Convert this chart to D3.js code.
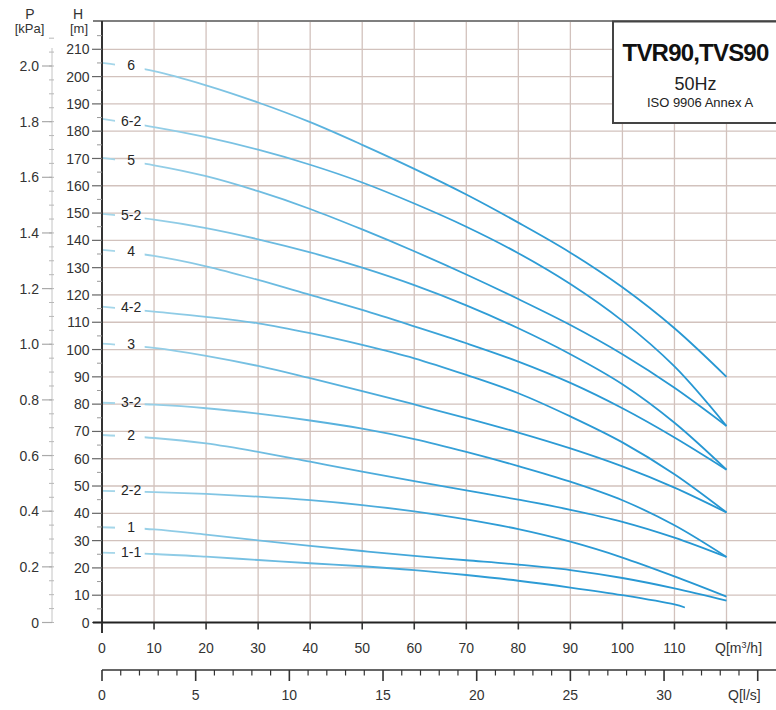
<!DOCTYPE html>
<html><head><meta charset="utf-8">
<script src="https://cdn.jsdelivr.net/npm/d3@7"></script>
<style>body{margin:0;background:#fff}svg{display:block;font-family:"Liberation Sans",Arial,Helvetica,sans-serif}</style>
</head><body><svg id="c" width="776" height="710"></svg>
<script>
// ---------- data ----------
const flow   = [0,10,20,30,40,50,60,70,80,90,100,110,120];
const flow11 = [0,10,20,30,40,50,60,70,80,90,100,110,112];
const h6   = [205,202,196.8,190.5,183.3,175,166.2,156.8,146.5,135.5,122.8,107.8,90];
const h6_2 = [184.5,181.5,177.8,173.2,167.7,161.2,153.5,145,135.3,124,110.5,93.8,72];
const h5   = [170.2,167.5,163.5,158,151.5,144,136,127.5,118.5,109,98.3,86,72];
const h5_2 = [149.7,147.6,144.5,140.4,135.6,130,123.6,116.2,107.8,98.3,87.3,73.2,56];
const h4   = [136.5,134.3,130.5,125.5,120,114.5,108.5,102.3,95.6,87.8,78.5,67.8,56];
const h4_2 = [115.7,113.9,112,109.6,106,101.7,96.8,90.7,84,75.5,66,54.3,40.3];
const h3   = [102.2,100.6,97.7,94,89.5,84.8,79.9,74.9,69.6,63.8,57.2,49.4,40.3];
const h3_2 = [80.5,79.8,78.5,76.5,74,71,67.2,62.5,57.3,51.6,44.8,35.6,24];
const h2   = [68.7,67.6,65.6,62.5,58.9,55.3,51.8,48.4,45,41.3,36.9,31.1,24];
const h2_2 = [48.2,47.8,47.1,46.1,44.8,43,40.7,37.8,34.2,29.6,23.8,16.9,9.5];
const h1   = [34.9,34.1,32.2,30.1,28.1,26.2,24.4,22.8,21.2,19.2,16.3,12.5,8];
const h1_1 = [25.6,25.1,24.1,22.9,21.7,20.6,19.2,17.4,15.3,12.8,10,6.6,5.5];
const curveNames = ["6","6-2","5","5-2","4","4-2","3","3-2","2","2-2","1","1-1"];
const curveHeads = [h6,h6_2,h5,h5_2,h4,h4_2,h3,h3_2,h2,h2_2,h1,h1_1];
const curveFlows = [flow,flow,flow,flow,flow,flow,flow,flow,flow,flow,flow,flow11];
const hTicks  = [0,10,20,30,40,50,60,70,80,90,100,110,120,130,140,150,160,170,180,190,200,210];
const pTicks  = [0,0.2,0.4,0.6,0.8,1.0,1.2,1.4,1.6,1.8,2.0];
const qTicks  = [0,10,20,30,40,50,60,70,80,90,100,110];
const lsTicks = [0,5,10,15,20,25,30];
const titleLines = ["TVR90,TVS90","50Hz","ISO 9906 Annex A"];

// ---------- scales ----------
const W = 776;
const x  = d3.scaleLinear().domain([0,120]).range([102,726.5]);
const y  = d3.scaleLinear().domain([0,220]).range([622.5,22]);
const yP = d3.scaleLinear().domain([0,2]).range([622.5,66]);
const svg = d3.select("#c");
const gridC = "#d2c2bd";

// gradient for curves
const defs = svg.append("defs");
const grad = defs.append("linearGradient").attr("id","cg").attr("gradientUnits","userSpaceOnUse")
  .attr("x1",x(0)).attr("x2",x(120)).attr("y1",0).attr("y2",0);
grad.append("stop").attr("offset","0%").attr("stop-color","#a9d8ea");
grad.append("stop").attr("offset","35%").attr("stop-color","#5bb3de");
grad.append("stop").attr("offset","60%").attr("stop-color","#2f9dd6");
grad.append("stop").attr("offset","100%").attr("stop-color","#2596d2");

// ---------- grid ----------
const g = svg.append("g");
d3.range(10,131,10).filter(q=>x(q)<=W).forEach(q=>{
  g.append("line").attr("x1",x(q)).attr("x2",x(q)).attr("y1",y(220)).attr("y2",y(0))
   .attr("stroke",gridC).attr("stroke-width",1.3);
});
hTicks.filter(h=>h>0).forEach(h=>{
  g.append("line").attr("x1",x(0)).attr("x2",W).attr("y1",y(h)).attr("y2",y(h))
   .attr("stroke",gridC).attr("stroke-width",1.3);
});

// ---------- curves ----------
const mask = defs.append("mask").attr("id","lm").attr("maskUnits","userSpaceOnUse")
  .attr("x",0).attr("y",0).attr("width",W).attr("height",710);
mask.append("rect").attr("width",W).attr("height",710).attr("fill","#fff");
const lineGen = d3.line().x(d=>x(d[0])).y(d=>y(d[1])).curve(d3.curveCatmullRom.alpha(0.5));
const cg = svg.append("g").attr("mask","url(#lm)");
const lg = svg.append("g").attr("font-size",14).attr("fill","#262626").attr("text-anchor","middle");
curveNames.forEach((name,i)=>{
  const pts = curveFlows[i].map((q,j)=>[q,curveHeads[i][j]]);
  cg.append("path").attr("d",lineGen(pts)).attr("fill","none")
    .attr("stroke","url(#cg)").attr("stroke-width",1.8);
  const hl = (curveHeads[i][0]+curveHeads[i][1])/2 + 0.6;
  const ly = y(hl);
  mask.append("rect").attr("x",x(2.5)).attr("width",x(8.2)-x(2.5)).attr("y",ly-8).attr("height",16).attr("fill","#000");
  lg.append("text").attr("x",x(5.6)).attr("y",ly).attr("dy","0.35em").text(name);
});

// ---------- top frame & title box ----------
svg.append("line").attr("x1",93).attr("x2",W).attr("y1",21).attr("y2",21).attr("stroke","#555").attr("stroke-width",1.5);
svg.append("rect").attr("x",613).attr("y",21.5).attr("width",180).attr("height",101.5)
  .attr("fill","#fff").attr("stroke","#444").attr("stroke-width",2);
svg.append("text").attr("x",695.5).attr("y",61).attr("font-size",24).attr("font-weight","bold")
  .attr("text-anchor","middle").attr("letter-spacing",-0.8).attr("fill","#111").text(titleLines[0]);
svg.append("text").attr("x",695.5).attr("y",90).attr("font-size",18).attr("text-anchor","middle").attr("fill","#222").text(titleLines[1]);
svg.append("text").attr("x",700).attr("y",106.5).attr("font-size",13).attr("text-anchor","middle").attr("fill","#222").text(titleLines[2]);

// ---------- H axis ----------
const ax = svg.append("g").attr("fill","#333").attr("font-size",14);
svg.append("line").attr("x1",x(0)).attr("x2",x(0)).attr("y1",21).attr("y2",633).attr("stroke","#333").attr("stroke-width",2);
hTicks.forEach(h=>{
  svg.append("line").attr("x1",92).attr("x2",x(0)).attr("y1",y(h)).attr("y2",y(h)).attr("stroke","#666").attr("stroke-width",1.2);
  ax.append("text").attr("x",89.5).attr("y",y(h)).attr("dy","0.36em").attr("text-anchor","end").text(h);
});
hTicks.map(h=>h+5).forEach(h=>{
  svg.append("line").attr("x1",97).attr("x2",x(0)).attr("y1",y(h)).attr("y2",y(h)).attr("stroke","#999").attr("stroke-width",1);
});
ax.append("text").attr("x",78).attr("y",18.5).attr("text-anchor","middle").text("H");
ax.append("text").attr("x",79).attr("y",33).attr("text-anchor","middle").attr("font-size",13).text("[m]");

// ---------- P axis ----------
svg.append("line").attr("x1",52).attr("x2",52).attr("y1",48).attr("y2",yP(0)).attr("stroke","#c4c4c4").attr("stroke-width",1);
d3.range(0,2.101,0.05).forEach(p=>{
  svg.append("line").attr("x1",49).attr("x2",54).attr("y1",yP(p)).attr("y2",yP(p)).attr("stroke","#b8b8b8").attr("stroke-width",1);
});
pTicks.forEach(p=>{
  svg.append("line").attr("x1",42).attr("x2",52).attr("y1",yP(p)).attr("y2",yP(p)).attr("stroke","#aaa").attr("stroke-width",1.2);
  ax.append("text").attr("x",39).attr("y",yP(p)).attr("dy","0.36em").attr("text-anchor","end").text(p===0?"0":p.toFixed(1));
});
ax.append("text").attr("x",30).attr("y",18.5).attr("text-anchor","middle").text("P");
ax.append("text").attr("x",29.5).attr("y",33).attr("text-anchor","middle").attr("font-size",13).text("[kPa]");

// ---------- Q m3/h axis ----------
svg.append("line").attr("x1",93).attr("x2",W).attr("y1",y(0)).attr("y2",y(0)).attr("stroke","#222").attr("stroke-width",2.2);
qTicks.concat([120]).forEach(q=>{
  svg.append("line").attr("x1",x(q)).attr("x2",x(q)).attr("y1",y(0)).attr("y2",629.5).attr("stroke","#333").attr("stroke-width",1.6);
});
qTicks.forEach(q=>{
  ax.append("text").attr("x",x(q)).attr("y",653).attr("text-anchor","middle").text(q);
});
const qt = ax.append("text").attr("x",715).attr("y",653);
qt.append("tspan").text("Q[m");
qt.append("tspan").attr("font-size",9).attr("dy",-5).text("3");
qt.append("tspan").attr("dy",5).text("/h]");

// ---------- Q l/s axis ----------
svg.append("line").attr("x1",x(0)).attr("x2",W).attr("y1",670).attr("y2",670).attr("stroke","#333").attr("stroke-width",1.6);
d3.range(0,36,1).forEach(l=>{
  const major = l%5===0;
  svg.append("line").attr("x1",x(l*3.6)).attr("x2",x(l*3.6)).attr("y1",670).attr("y2",major?681:675.5)
    .attr("stroke","#333").attr("stroke-width",major?1.6:1.2);
});
lsTicks.forEach(l=>{
  ax.append("text").attr("x",x(l*3.6)).attr("y",700).attr("text-anchor","middle").text(l);
});
ax.append("text").attr("x",728).attr("y",700).text("Q[l/s]");
</script></body></html>
